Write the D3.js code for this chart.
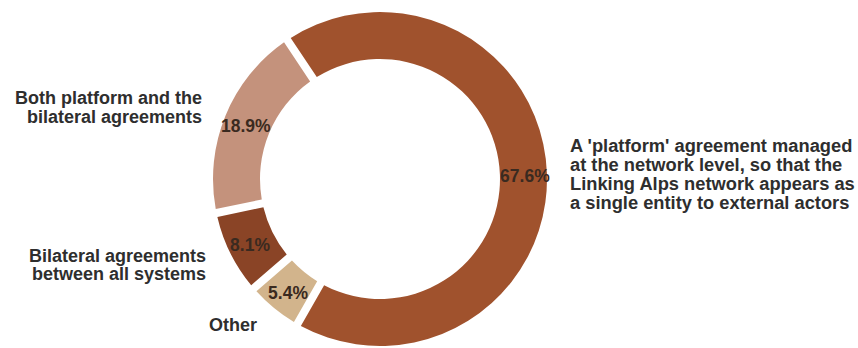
<!DOCTYPE html>
<html>
<head>
<meta charset="utf-8">
<script src="https://cdn.jsdelivr.net/npm/d3@7"></script>
<style>
  html, body { margin: 0; padding: 0; background: #ffffff; }
  svg { display: block; }
  text { font-family: "Liberation Sans", Arial, sans-serif; font-weight: bold; }
</style>
</head>
<body>
<svg id="chart" width="858" height="348"></svg>
<script>
// Survey answers, drawn clockwise starting from the top-left gap
const categories = [
  "A 'platform' agreement managed at the network level, so that the Linking Alps network appears as a single entity to external actors",
  "Other",
  "Bilateral agreements between all systems",
  "Both platform and the bilateral agreements"
];
const shares = [67.6, 5.4, 8.1, 18.9];
const colors = ["#a0522d", "#d2b48c", "#8a4426", "#c4927c"];

// Wrapped category captions, one array of lines per slice
const captionLines = [
  ["A 'platform' agreement managed", "at the network level, so that the", "Linking Alps network appears as", "a single entity to external actors"],
  ["Other"],
  ["Bilateral agreements", "between all systems"],
  ["Both platform and the", "bilateral agreements"]
];

const svg = d3.select("#chart");
const cx = 380, cy = 179;
const outerR = 167, innerR = 120, labelR = 145;
const gap = 8; // white gap between slices, in px

const start = -33.7 * Math.PI / 180;
const pie = d3.pie().sort(null).value(d => d.value)
  .startAngle(start).endAngle(start + 2 * Math.PI);

const data = shares.map((v, i) => ({ name: categories[i], value: v, color: colors[i] }));
const arcs = pie(data);

const arc = d3.arc()
  .innerRadius(innerR)
  .outerRadius(outerR)
  .padRadius(outerR)
  .padAngle(gap / outerR);

const labelArc = d3.arc().innerRadius(labelR).outerRadius(labelR);

const g = svg.append("g").attr("transform", `translate(${cx},${cy})`);

g.selectAll("path.slice")
  .data(arcs)
  .join("path")
  .attr("class", "slice")
  .attr("d", arc)
  .attr("fill", d => d.data.color);

// Percentage inside each slice
g.selectAll("text.pct")
  .data(arcs)
  .join("text")
  .attr("class", "pct")
  .attr("x", d => labelArc.centroid(d)[0])
  .attr("y", d => labelArc.centroid(d)[1] + 2)
  .attr("text-anchor", "middle")
  .attr("dominant-baseline", "central")
  .attr("font-size", 17.5)
  .attr("fill", "#3a2a20")
  .text(d => d3.format(".1f")(d.data.value) + "%");

// Category captions placed beside the ring
const captionPos = [
  { x: 570, y: 151.7, anchor: "start", lh: 19.2, size: 18.3 },
  { x: 257, y: 331, anchor: "end", lh: 18.5, size: 18 },
  { x: 206, y: 261.5, anchor: "end", lh: 18.5, size: 18 },
  { x: 202, y: 104.3, anchor: "end", lh: 18.5, size: 18 }
];

captionLines.forEach((lines, i) => {
  const p = captionPos[i];
  const t = svg.append("text")
    .attr("class", "caption")
    .attr("text-anchor", p.anchor)
    .attr("font-size", p.size)
    .attr("fill", "#2e2e2e");
  lines.forEach((line, j) => {
    t.append("tspan").attr("x", p.x).attr("y", p.y + j * p.lh).text(line);
  });
});
</script>
</body>
</html>
